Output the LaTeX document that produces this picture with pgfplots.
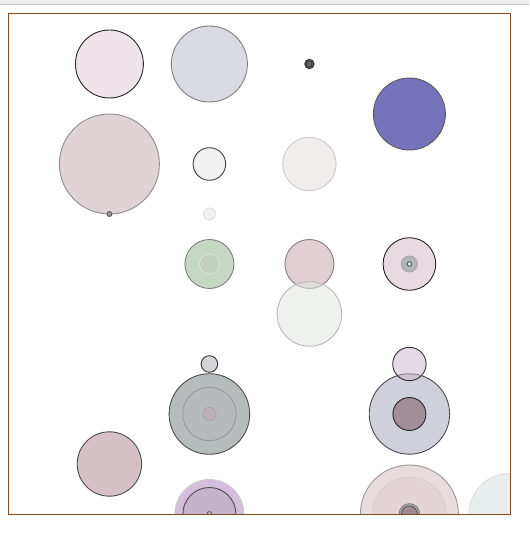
\documentclass[border=0pt]{standalone}
\usepackage{pgfplots}
\pgfplotsset{compat=1.18}
\definecolor{frame}{HTML}{8A4A1C}
\definecolor{fA}{HTML}{EFE4EA}\definecolor{fB}{HTML}{DADBE2}
\definecolor{fC}{HTML}{5A5A62}\definecolor{fC2}{HTML}{9A9A9A}
\definecolor{fD}{HTML}{7673BC}\definecolor{fE}{HTML}{E0D3D6}
\definecolor{fF}{HTML}{F0F0F0}\definecolor{fG}{HTML}{F1EDED}
\definecolor{fH}{HTML}{F3EEF0}\definecolor{fI}{HTML}{C6D7C3}
\definecolor{fI2}{HTML}{C4D1BE}\definecolor{fJ}{HTML}{E0D0D4}
\definecolor{fK}{HTML}{E2E6E2}\definecolor{fL}{HTML}{E8DAE1}
\definecolor{fL2}{HTML}{B3B6B7}\definecolor{fM}{HTML}{D5D3D8}
\definecolor{fN}{HTML}{B6BBBB}\definecolor{fN2}{HTML}{B7BABB}
\definecolor{fN3}{HTML}{BAB0B6}\definecolor{fO}{HTML}{D0D0DA}
\definecolor{fO2}{HTML}{A08F98}\definecolor{fP}{HTML}{C9B5CB}
\definecolor{fQ}{HTML}{D6C2C6}\definecolor{fR}{HTML}{D4BEDD}
\definecolor{fR2}{HTML}{C4B3CC}\definecolor{fS}{HTML}{E8DCDC}
\definecolor{fS2}{HTML}{E3D4D8}\definecolor{fS3}{HTML}{9F8A93}
\definecolor{fT}{HTML}{E8EEEE}
\pgfplotsset{bub/.style n args={3}{only marks, mark=*, mark size=#1,
  mark options={fill=#2, draw=#3, line width=0.9pt}}}
\begin{document}
\begin{tikzpicture}
\path (-8pt,-21pt) rectangle (521pt,514pt);
\fill[black!7] (-8pt,510pt) rectangle (521pt,514pt);
\draw[black!22, line width=0.8pt] (-8pt,510pt) -- (521pt,510pt);
\begin{axis}[
  at={(0pt,0pt)}, anchor=south west,
  scale only axis, width=502pt, height=501pt,
  xmin=-0.01, xmax=5.01, ymin=1, ymax=11.02,
  xtick=\empty, ytick=\empty,
  axis on top,
  axis line style={draw=frame, line width=0.9pt},
  clip marker paths=true,
]
% row 10
\addplot[bub={34}{fA}{black!85}] coordinates {(1,10)};
\addplot[bub={38}{fB}{black!50}] coordinates {(2,10)};
\addplot[bub={4.7}{fC}{black!80}] coordinates {(3,10)};
\addplot[bub={2.6}{fC2}{black!80}] coordinates {(3,10)};
\addplot[bub={0.8}{black!70}{black!70}] coordinates {(3,10)};
% row 9
\addplot[bub={36}{fD}{black!65}] coordinates {(4,9)};
% row 8
\addplot[bub={50}{fE}{black!45}] coordinates {(1,8)};
\addplot[bub={16.3}{fF}{black!75}] coordinates {(2,8)};
\addplot[bub={26.7}{fG}{black!20}] coordinates {(3,8)};
% row 7
\addplot[bub={2.5}{black!40}{black!65}] coordinates {(1,7)};
\addplot[bub={6}{fH}{black!13}] coordinates {(2,7)};
% row 6
\addplot[bub={24.5}{fI}{black!50}] coordinates {(2,6)};
\addplot[bub={10}{fI2}{black!12}] coordinates {(2,6)};
\addplot[bub={24.5}{fJ}{black!50}] coordinates {(3,6)};
\addplot[only marks, mark=*, mark size=32.3, mark options={fill=fK, fill opacity=0.55, draw=black!28, line width=0.9pt}] coordinates {(3,5)};
\addplot[bub={26.3}{fL}{black!85}] coordinates {(4,6)};
\addplot[bub={8}{fL2}{black!35}] coordinates {(4,6)};
\addplot[bub={2.3}{black!15}{black!65}] coordinates {(4,6)};
% rows 4 and 3
\addplot[bub={8.3}{fM}{black!80}] coordinates {(2,4)};
\addplot[bub={40.3}{fN}{black!70}] coordinates {(2,3)};
\addplot[bub={26.7}{fN2}{black!40}] coordinates {(2,3)};
\addplot[bub={6.7}{fN3}{black!35}] coordinates {(2,3)};
\addplot[bub={40.2}{fO}{black!70}] coordinates {(4,3)};
\addplot[bub={16.5}{fO2}{black!85}] coordinates {(4,3)};
\addplot[only marks, mark=*, mark size=16.7, mark options={fill=fP, fill opacity=0.5, draw=black!80, line width=0.9pt}] coordinates {(4,4)};
% row 2
\addplot[bub={32.2}{fQ}{black!70}] coordinates {(1,2)};
% row 1
\addplot[bub={34.5}{fR}{black!20}] coordinates {(2,1)};
\addplot[bub={26.5}{fR2}{black!70}] coordinates {(2,1)};
\addplot[bub={2.4}{black!25}{black!60}] coordinates {(2,1)};
\addplot[bub={49}{fS}{black!40}] coordinates {(4,1)};
\addplot[bub={36.7}{fS2}{black!18}] coordinates {(4,1)};
\addplot[bub={10.3}{black!33}{black!50}] coordinates {(4,1)};
\addplot[bub={8}{fS3}{black!65}] coordinates {(4,1)};
\addplot[bub={40.5}{fT}{black!13}] coordinates {(5,1)};
\end{axis}
\end{tikzpicture}
\end{document}
